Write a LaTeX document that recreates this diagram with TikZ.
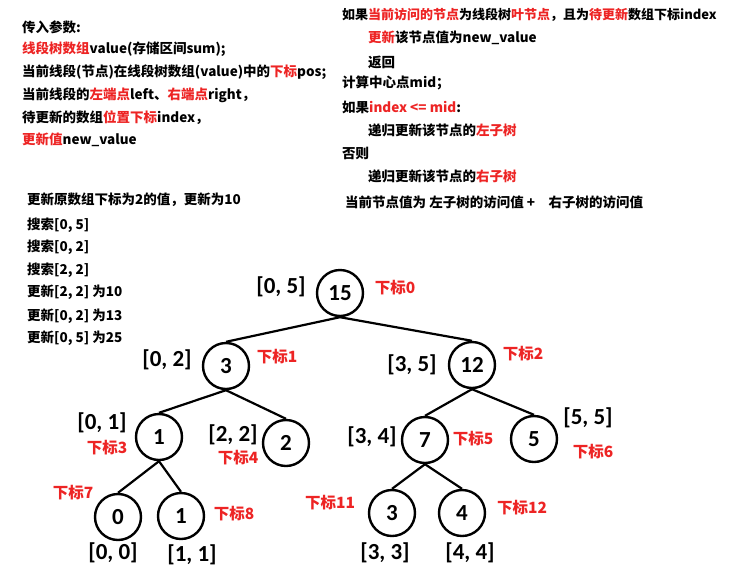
\documentclass[tikz,border=0pt]{standalone}
\usepackage{fontspec}
\setmainfont{Noto Sans CJK SC}
\newfontfamily\numfont{Carlito}
\usetikzlibrary{positioning}
\definecolor{rojo}{RGB}{237,36,36}
\newcommand{\rj}[1]{\textcolor{rojo}{#1}}

\begin{document}
\begin{tikzpicture}[x=1pt, y=-1pt,
    nodo/.style={circle, draw, line width=2.4pt, minimum size=46pt, inner sep=0pt,
        font=\numfont\bfseries\fontsize{23}{23}\selectfont},
    rango/.style={inner sep=0pt, font=\numfont\bfseries\fontsize{23}{23}\selectfont},
    sub/.style={inner sep=0pt, text=rojo, font=\bfseries\fontsize{15.5}{16}\selectfont},
    txt/.style={anchor=west, inner sep=0pt, font=\bfseries\fontsize{13.5}{14}\selectfont},
    arista/.style={line width=2.2pt}]
                                \useasboundingbox (0,0) rectangle (729,574);

                                % parametros
                                \node [txt] (p0) at (22,27) {传入参数:};
                                \node [txt] (p1) at (22,49) {\rj{线段树数组}value(存储区间sum);};
                                \node [txt] (p2) at (22,72) {当前线段(节点)在线段树数组(value)中的\rj{下标}pos;};
                                \node [txt] (p3) at (22,95) {当前线段的\rj{左端点}left、\rj{右端点}right，};
                                \node [txt] (p4) at (22,118) {待更新的数组\rj{位置下标}index，};
                                \node [txt] (p5) at (22,140) {\rj{更新值}new\_value};

                                % algoritmo
                                \node [txt, font=\bfseries\fontsize{13}{14}\selectfont] (a0) at (342,15) {如果\rj{当前访问的节点}为线段树\rj{叶节点}，且为\rj{待更新}数组下标index};
                                \node [txt] (a1) at (368,38) {\rj{更新}该节点值为new\_value};
                                \node [txt] (a2) at (368,62) {返回};
                                \node [txt] (a3) at (342,83) {计算中心点mid；};
                                \node [txt] (a4) at (342,107) {如果\rj{index <= mid}:};
                                \node [txt] (a5) at (368,130) {递归更新该节点的\rj{左子树}};
                                \node [txt] (a6) at (342,153) {否则};
                                \node [txt] (a7) at (368,176) {递归更新该节点的\rj{右子树}};
                                \node [txt] (a8) at (345,202) {当前节点值为 左子树的访问值 +\quad 右子树的访问值};

                                % ejemplo
                                \node [txt] (e0) at (27,200) {更新原数组下标为2的值，更新为10};
                                \node [txt] (e1) at (27,225) {搜索[0, 5]};
                                \node [txt] (e2) at (27,247) {搜索[0, 2]};
                                \node [txt] (e3) at (27,270) {搜索[2, 2]};
                                \node [txt] (e4) at (27,292) {更新[2, 2] 为10};
                                \node [txt] (e5) at (27,316) {更新[0, 2] 为13};
                                \node [txt] (e6) at (27,338) {更新[0, 5] 为25};

                                % nodos
                                \node [nodo] (n0) at (340,293) {15};
                                \node [nodo] (n1) at (226,366) {3};
                                \node [nodo] (n2) at (472,365) {12};
                                \node [nodo] (n3) at (159,437) {1};
                                \node [nodo] (n4) at (286,443) {2};
                                \node [nodo] (n5) at (425,440) {7};
                                \node [nodo] (n6) at (534,439) {5};
                                \node [nodo] (n7) at (118,517) {0};
                                \node [nodo] (n8) at (181,516) {1};
                                \node [nodo] (n11) at (392,513) {3};
                                \node [nodo] (n12) at (462,513) {4};

                                % intervalos
                                \node [rango] (r0) at (281,287) {[0, 5]};
                                \node [rango] (r1) at (167,360) {[0, 2]};
                                \node [rango] (r2) at (412,365) {[3, 5]};
                                \node [rango] (r3) at (102,423) {[0, 1]};
                                \node [rango] (r4) at (233,435) {[2, 2]};
                                \node [rango] (r5) at (372,437) {[3, 4]};
                                \node [rango] (r6) at (588,418) {[5, 5]};
                                \node [rango] (r7) at (113,553) {[0, 0]};
                                \node [rango] (r8) at (192,555) {[1, 1]};
                                \node [rango] (r11) at (385,553) {[3, 3]};
                                \node [rango] (r12) at (470,553) {[4, 4]};

                                % subindices
                                \node [sub] (s0) at (395,288) {下标0};
                                \node [sub] (s1) at (277,357) {下标1};
                                \node [sub] (s2) at (523,354) {下标2};
                                \node [sub] (s3) at (107,448) {下标3};
                                \node [sub] (s4) at (238,458) {下标4};
                                \node [sub] (s5) at (473,439) {下标5};
                                \node [sub] (s6) at (593,452) {下标6};
                                \node [sub] (s7) at (73,493) {下标7};
                                \node [sub] (s8) at (234,514) {下标8};
                                \node [sub] (s11) at (330,503) {下标11};
                                \node [sub] (s12) at (522,508) {下标12};

                                % aristas
                                \path[arista]
                                (n0.south) edge (n1.north)
                                           edge (n2.north)
                                (n1.south) edge (n3.north)
                                           edge (n4.north)
                                (n2.south) edge (n5.north)
                                           edge (n6.north)
                                (n3.south) edge (n7.north)
                                           edge (n8.north)
                                (n5.south) edge (n11.north)
                                           edge (n12.north);
                            \end{tikzpicture}
\end{document}
